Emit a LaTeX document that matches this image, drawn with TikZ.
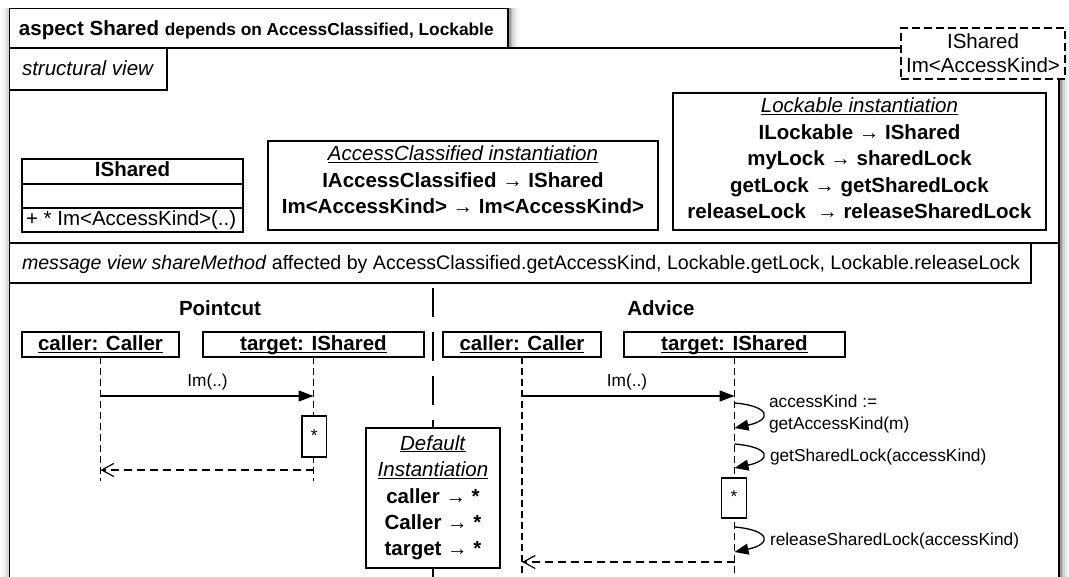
\documentclass[tikz,border=0pt]{standalone}
\usepackage{fontspec}
\setmainfont{Liberation Sans}
\usetikzlibrary{arrows.meta}

\newcommand{\mainsize}{\fontsize{20.5}{24}\selectfont}
\newcommand{\msgsize}{\fontsize{19.6}{24}\selectfont}
\newcommand{\lblsize}{\fontsize{17.3}{21}\selectfont}
\newcommand{\uln}[1]{\underline{\smash{#1}\vphantom{x}}}

\begin{document}
\begin{tikzpicture}[x=1pt,y=-1pt,
  every node/.style={font=\mainsize, inner sep=0pt, outer sep=0pt},
  frameline/.style={line width=1.5pt},
  box/.style={draw, line width=1.3pt, fill=white, inner sep=0pt, anchor=north west},
  tparam/.style={draw, line width=1.2pt, dash pattern=on 8pt off 4pt, fill=white, anchor=north west},
  lifeline/.style={line width=1.2pt, dash pattern=on 7pt off 4pt},
  sepline/.style={line width=1.3pt, dash pattern=on 29pt off 15pt},
  callmsg/.style={line width=1.2pt, -{Triangle[length=15pt,width=11pt]}},
  retmsg/.style={line width=1.2pt, dash pattern=on 8pt off 5pt, -{Straight Barb[length=12pt,width=13pt]}},
  selfmsg/.style={line width=1.3pt, -{Triangle[length=14pt,width=11pt]}},
  lbl/.style={font=\lblsize, anchor=base},
  txt/.style={anchor=base},
]
\useasboundingbox (0,0) rectangle (1069,577);
\clip (0,0) rectangle (1069,577);

% soft shadow along the vertical edges of the aspect frame
\foreach \w/\o in {18/0.04,13/0.06,9/0.08,5/0.12,2.5/0.18}{
  \draw[line width=\w pt, opacity=\o, shift={(1.5,0)}]
    (9.6,8.3) -- (9.6,600) (508,8.3) -- (508,48) (1059,48) -- (1059,600);
}
\fill[white] (9.6,8.3) rectangle (508,48);
\fill[white] (9.6,48) rectangle (1059,600);

% aspect frame
\draw[frameline] (9.6,600) -- (9.6,48) -- (1059,48) -- (1059,600);
\node[box, minimum width=498.4pt, minimum height=39.7pt] (aspect) at (9.6,8.3) {};
\node[anchor=base west] (aspect-t) at (19,36)
  {\textbf{aspect Shared} {\fontsize{17.3}{21}\selectfont\bfseries depends on AccessClassified, Lockable}};

% template parameters
\node[tparam, minimum width=164pt, minimum height=51pt] (tparams) at (901,28) {};
\node[txt] (tp1) at (tparams.center |- 0,48.5) {IShared};
\node[txt] (tp2) at (tparams.center |- 0,72.5) {Im<AccessKind>};

% ---------------- structural view ----------------
\node[box, minimum width=157.4pt, minimum height=42pt] (sview) at (9.6,48) {};
\node[anchor=base west] (sview-t) at (22,76) {\textit{structural view}};

% class IShared
\node[box, minimum width=221pt, minimum height=73pt] (cls) at (22,159) {};
\draw[line width=1.3pt] (cls.west |- 0,184) -- (cls.east |- 0,184)
                        (cls.west |- 0,208) -- (cls.east |- 0,208);
\node[txt] (cls-name) at (cls.center |- 0,177) {\textbf{IShared}};
\node[anchor=base west] (cls-op) at (26,226) {+ * Im<AccessKind>(..)};

% AccessClassified instantiation
\node[box, minimum width=390pt, minimum height=89pt] (acinst) at (268,141) {};
\node[txt] (ac1) at (acinst.center |- 0,161) {\uln{\textit{AccessClassified instantiation}}};
\node[txt] (ac2) at (acinst.center |- 0,187.5) {\textbf{IAccessClassified → IShared}};
\node[txt] (ac3) at (acinst.center |- 0,214) {\textbf{Im<AccessKind> → Im<AccessKind>}};

% Lockable instantiation
\node[box, minimum width=373pt, minimum height=137pt] (lkinst) at (673,93) {};
\node[txt] (lk1) at (lkinst.center |- 0,113) {\uln{\textit{Lockable instantiation}}};
\node[txt] (lk2) at (lkinst.center |- 0,139.5) {\textbf{ILockable → IShared}};
\node[txt] (lk3) at (lkinst.center |- 0,166) {\textbf{myLock → sharedLock}};
\node[txt] (lk4) at (lkinst.center |- 0,192.5) {\textbf{getLock → getSharedLock}};
\node[txt] (lk5) at (lkinst.center |- 0,219) {\textbf{releaseLock \ → releaseSharedLock}};

% ---------------- message view ----------------
\draw[frameline] (9.6,243) -- (1059,243);
\node[box, minimum width=1021.4pt, minimum height=40pt] (mview) at (9.6,243) {};
\node[anchor=base west, font=\msgsize] (mview-t) at (22,270)
  {\textit{message view shareMethod} affected by AccessClassified.getAccessKind, Lockable.getLock, Lockable.releaseLock};

\node[txt] (pc-head) at (220,316) {\textbf{Pointcut}};
\node[txt] (ad-head) at (661,316) {\textbf{Advice}};

% divider between pointcut and advice, interrupted by the default instantiation
\node[box, minimum width=134pt, minimum height=140pt] (definst) at (366,428) {};
\coordinate (div-top) at (433,288);
\coordinate (div-bot) at (433,600);
\draw[sepline] (div-top) -- (definst.north);
\draw[line width=1.3pt] (definst.south) -- (div-bot);
\node[txt] (di1) at (definst.center |- 0,450) {\uln{\textit{Default}}};
\node[txt] (di2) at (definst.center |- 0,476.5) {\uln{\textit{Instantiation}}};
\node[txt] (di3) at (definst.center |- 0,503) {\textbf{caller → *}};
\node[txt] (di4) at (definst.center |- 0,529) {\textbf{Caller → *}};
\node[txt] (di5) at (definst.center |- 0,555) {\textbf{target → *}};

% pointcut lifelines
\node[box, minimum width=157pt, minimum height=25pt] (pc-caller) at (22,332) {};
\node[box, minimum width=221pt, minimum height=25pt] (pc-target) at (203,332) {};
\node[txt] (pc-caller-t) at (pc-caller.center |- 0,351) {\uln{\textbf{caller: Caller}}};
\node[txt] (pc-target-t) at (pc-target.center |- 0,351) {\uln{\textbf{target: IShared}}};
\coordinate (pc-caller-end) at (pc-caller.south |- 0,481);
\coordinate (pc-target-end) at (pc-target.south |- 0,481);
\draw[lifeline] (pc-caller.south) -- (pc-caller-end);
\draw[lifeline] (pc-target.south) -- (pc-target-end);

\draw[callmsg] (pc-caller.south |- 0,396) -- (pc-target.south |- 0,396);
\node[lbl] (pc-call) at (207.5,387) {Im(..)};
\node[box, minimum width=24.5pt, minimum height=41pt] (pc-act) at (302,416) {};
\node[lbl] (pc-star) at (pc-act.center |- 0,442) {*};
\draw[retmsg] (pc-target.south |- 0,470) -- (pc-caller.south |- 0,470);

% advice lifelines
\node[box, minimum width=158pt, minimum height=25pt] (ad-caller) at (443,332) {};
\node[box, minimum width=221pt, minimum height=25pt] (ad-target) at (624,332) {};
\node[txt] (ad-caller-t) at (ad-caller.center |- 0,351) {\uln{\textbf{caller: Caller}}};
\node[txt] (ad-target-t) at (ad-target.center |- 0,351) {\uln{\textbf{target: IShared}}};
\coordinate (ad-caller-end) at (ad-caller.south |- 0,600);
\coordinate (ad-target-end) at (ad-target.south |- 0,600);
\draw[lifeline] (ad-caller.south) -- (ad-caller-end);
\draw[lifeline] (ad-target.south) -- (ad-target-end);

\draw[callmsg] (ad-caller.south |- 0,396) -- (ad-target.south |- 0,396);
\node[lbl] (ad-call) at (627,387) {Im(..)};

\draw[selfmsg] (ad-target.south |- 0,403) .. controls +(36,3) and +(38,-8) .. (ad-target.south |- 0,428);
\node[lbl, anchor=base west] (ad-s1a) at (769,408) {accessKind :=};
\node[lbl, anchor=base west] (ad-s1b) at (769,429) {getAccessKind(m)};

\draw[selfmsg] (ad-target.south |- 0,444) .. controls +(36,3) and +(38,-8) .. (ad-target.south |- 0,468);
\node[lbl, anchor=base west] (ad-s2) at (770,461) {getSharedLock(accessKind)};

\node[box, minimum width=25pt, minimum height=40pt] (ad-act) at (721.5,478) {};
\node[lbl] (ad-star) at (ad-act.center |- 0,502.5) {*};

\draw[selfmsg] (ad-target.south |- 0,527) .. controls +(36,3) and +(38,-8) .. (ad-target.south |- 0,552);
\node[lbl, anchor=base west] (ad-s3) at (770,545) {releaseSharedLock(accessKind)};

\draw[retmsg] (ad-target.south |- 0,562) -- (ad-caller.south |- 0,562);
\end{tikzpicture}
\end{document}
